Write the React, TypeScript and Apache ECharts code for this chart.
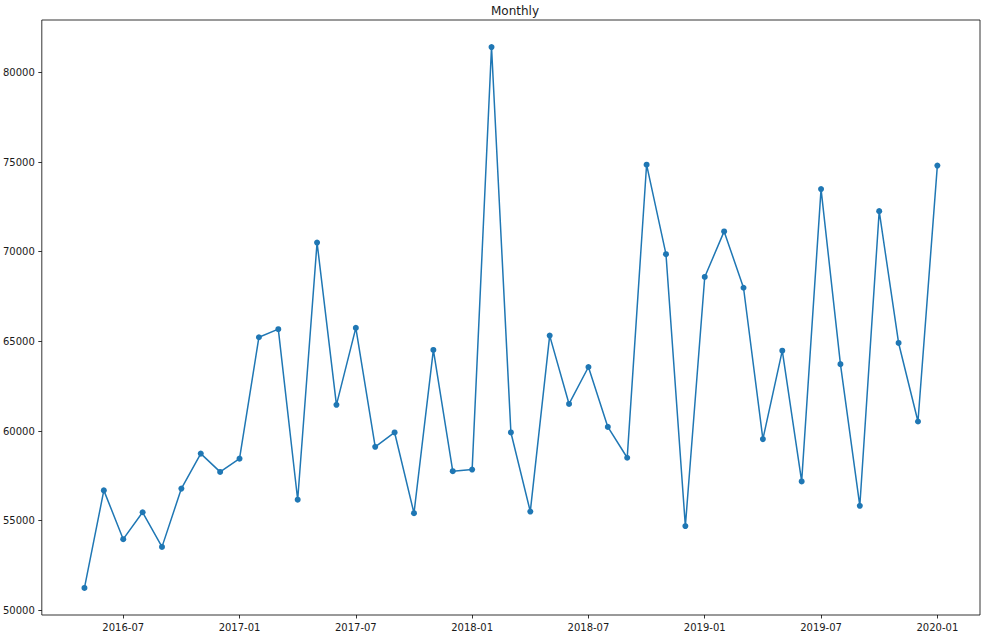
import React, { useEffect, useRef } from "react";
import * as echarts from "echarts";

const dates = [
  "2016-04-30", "2016-05-31", "2016-06-30", "2016-07-31", "2016-08-31", "2016-09-30", "2016-10-31", "2016-11-30", "2016-12-31",
  "2017-01-31", "2017-02-28", "2017-03-31", "2017-04-30", "2017-05-31", "2017-06-30", "2017-07-31", "2017-08-31", "2017-09-30", "2017-10-31", "2017-11-30", "2017-12-31",
  "2018-01-31", "2018-02-28", "2018-03-31", "2018-04-30", "2018-05-31", "2018-06-30", "2018-07-31", "2018-08-31", "2018-09-30", "2018-10-31", "2018-11-30", "2018-12-31",
  "2019-01-31", "2019-02-28", "2019-03-31", "2019-04-30", "2019-05-31", "2019-06-30", "2019-07-31", "2019-08-31", "2019-09-30", "2019-10-31", "2019-11-30", "2019-12-31",
];

const values = [
  51250, 56690, 53970, 55470, 53540, 56790, 58740, 57720, 58460,
  65230, 65680, 56170, 70510, 61460, 65750, 59120, 59920, 55420, 64520, 57760, 57850,
  81410, 59920, 55510, 65320, 61510, 63570, 60230, 58510, 74850, 69860, 54700, 68590,
  71130, 67990, 59550, 64480, 57190, 73490, 63730, 55830, 72260, 64910, 60530, 74800,
];

const xTickLabels = ["2016-07", "2017-01", "2017-07", "2018-01", "2018-07", "2019-01", "2019-07", "2020-01"];
const yTicks = [50000, 55000, 60000, 65000, 70000, 75000, 80000];

const BASE_YEAR = 2016;

function dateToMonths(s: string): number {
  const parts = s.split("-").map(Number);
  const y = parts[0];
  const m = parts[1];
  const d = parts.length > 2 ? parts[2] : 0;
  const dim = new Date(y, m, 0).getDate();
  return (y - BASE_YEAR) * 12 + (m - 1) + d / dim;
}

const xTickPos = xTickLabels.map((t) => dateToMonths(t));

export default function App() {
  const ref = useRef<HTMLDivElement>(null);

  useEffect(() => {
    if (!ref.current) return;
    const chart = echarts.init(ref.current, null, { renderer: "svg" });

    const xs = dates.map(dateToMonths);
    const xMinD = Math.min(...xs);
    const xMaxD = Math.max(...xs);
    const xPad = (xMaxD - xMinD) * 0.05;
    const yMinD = Math.min(...values);
    const yMaxD = Math.max(...values);
    const yPad = (yMaxD - yMinD) * 0.05;

    const font = "DejaVu Sans";
    const textColor = "#1a1a1a";

    chart.setOption({
      animation: false,
      backgroundColor: "#ffffff",
      title: {
        text: "Monthly",
        left: 510,
        top: 0,
        textAlign: "center",
        textStyle: { fontFamily: font, fontSize: 12, fontWeight: "normal", color: textColor },
      },
      grid: {
        left: 40,
        right: 11,
        top: 20,
        bottom: 24,
        show: true,
        borderColor: "#000",
        borderWidth: 0.8,
        backgroundColor: "#fff",
        containLabel: false,
      },
      xAxis: {
        type: "value",
        min: xMinD - xPad,
        max: xMaxD + xPad,
        splitLine: { show: false },
        axisLine: { show: false },
        axisTick: {
          show: true,
          length: 3.5,
          customValues: xTickPos,
          lineStyle: { color: "#000", width: 0.8 },
        },
        axisLabel: {
          customValues: xTickPos,
          margin: 7,
          fontFamily: font,
          fontSize: 10,
          color: textColor,
          formatter: (v: number) => {
            let best = 0;
            for (let i = 0; i < xTickPos.length; i++) {
              if (Math.abs(xTickPos[i] - v) < Math.abs(xTickPos[best] - v)) best = i;
            }
            return xTickLabels[best];
          },
        },
      },
      yAxis: {
        type: "value",
        min: yMinD - yPad,
        max: yMaxD + yPad,
        splitLine: { show: false },
        axisLine: { show: false },
        axisTick: {
          show: true,
          length: 3.5,
          customValues: yTicks,
          lineStyle: { color: "#000", width: 0.8 },
        },
        axisLabel: {
          customValues: yTicks,
          margin: 7,
          fontFamily: font,
          fontSize: 10,
          color: textColor,
          formatter: (v: number) => String(Math.round(v)),
        },
      },
      series: [
        {
          type: "line",
          data: dates.map((d, i) => [dateToMonths(d), values[i]]),
          symbol: "circle",
          symbolSize: 6,
          showSymbol: true,
          lineStyle: { color: "#1f77b4", width: 1.5 },
          itemStyle: { color: "#1f77b4" },
        },
      ],
    });

    return () => {
      chart.dispose();
    };
  }, []);

  return (
    <div
      ref={ref}
      style={{ position: "fixed", left: 0, top: 0, width: 991, height: 639, background: "#fff" }}
    />
  );
}
